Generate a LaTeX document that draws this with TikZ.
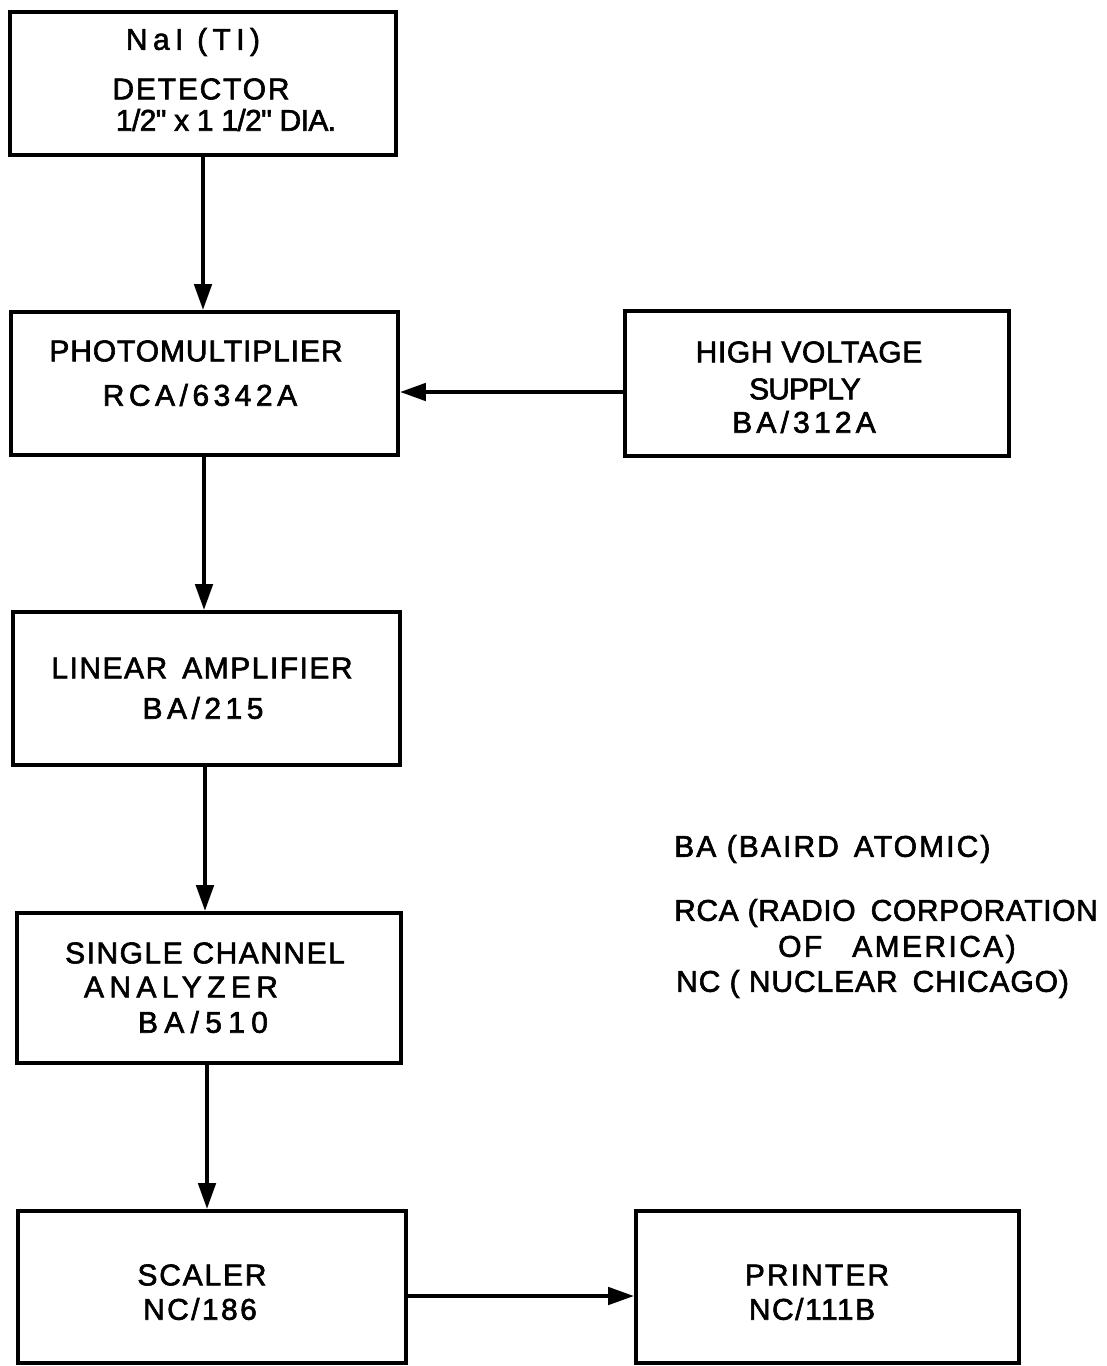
\documentclass[tikz,border=0pt]{standalone}
\usepackage{fontspec}
\setmainfont{Liberation Sans}
\newfontfamily\labfont{Liberation Sans}[FakeBold=2]
\newcommand\myls[1]{\addfontfeature{LetterSpace=#1}}
\usetikzlibrary{arrows.meta}
\begin{document}
\begin{tikzpicture}[x=1pt,y=-1pt,
  box/.style={draw,line width=3.6pt,rectangle,inner sep=0pt},
  lbl/.style={inner sep=0pt,font=\labfont\fontsize{30}{30}\selectfont},
  leg/.style={inner sep=0pt,anchor=west,font=\labfont\fontsize{30}{30}\selectfont},
  arr/.style={line width=4.5pt,-{Triangle[length=26pt,width=17pt]}}]
\useasboundingbox (0,0) rectangle (1107,1366);
% boxes
\node[box,minimum width=386pt,minimum height=143pt] (det) at (203,83.5) {};
\node[box,minimum width=387pt,minimum height=143pt] (pm) at (204.5,383.5) {};
\node[box,minimum width=384pt,minimum height=145pt] (hv) at (817,383.5) {};
\node[box,minimum width=387pt,minimum height=153pt] (amp) at (206.5,688.5) {};
\node[box,minimum width=384pt,minimum height=150pt] (sca) at (209,988) {};
\node[box,minimum width=388pt,minimum height=152pt] (scl) at (212,1287) {};
\node[box,minimum width=383pt,minimum height=152pt] (prn) at (827.5,1287) {};
% texts
\node[lbl] (t1) at (193,42) {\myls{18}NaI (TI)};
\node[lbl] (t2) at (201,89) {\myls{6}DETECTOR};
\node[lbl] (t3) at (226,120) {\myls{-2}1/2" x 1 1/2" DIA.};
\node[lbl] (t4) at (196,351) {\myls{3}PHOTOMULTIPLIER};
\node[lbl] (t5) at (200,395) {\myls{15}RCA/6342A};
\node[lbl] (t6) at (809,352) {\myls{2}HIGH VOLTAGE};
\node[lbl] (t7) at (805,389) {\myls{-3}SUPPLY};
\node[lbl] (t8) at (804,422) {\myls{14}BA/312A};
\node[lbl] (t9) at (202,668) {\myls{5}LINEAR\enspace AMPLIFIER};
\node[lbl] (t10) at (203,708) {\myls{15}BA/215};
\node[lbl] (t11) at (205,953) {\myls{5}SINGLE CHANNEL};
\node[lbl] (t12) at (181,987) {\myls{18}ANALYZER};
\node[lbl] (t13) at (203,1022) {\myls{21}BA/510};
\node[lbl] (t14) at (202,1275) {\myls{6}SCALER};
\node[lbl] (t15) at (200,1309) {\myls{8}NC/186};
\node[lbl] (t16) at (817,1275) {\myls{7}PRINTER};
\node[lbl] (t17) at (812,1309) {\myls{5}NC/111B};
% legend
\node[leg] (l1) at (674,849) {\myls{7}BA (BAIRD\enspace ATOMIC)};
\node[leg] (l2) at (674,913) {\myls{2}RCA (RADIO\enspace CORPORATION};
\node[leg] (l3) at (778,949) {\myls{8}OF\quad AMERICA)};
\node[leg] (l4) at (676,984) {\myls{3}NC ( NUCLEAR\enspace CHICAGO)};
% arrows
\draw[arr] (det.south -| 203,0) -- (pm.north -| 203,0);
\draw[arr] (pm.south -| 204,0) -- (amp.north -| 204,0);
\draw[arr] (amp.south -| 205,0) -- (sca.north -| 205,0);
\draw[arr] (sca.south -| 207,0) -- (scl.north -| 207,0);
\draw[arr] (hv.west |- 0,392) -- (pm.east |- 0,392);
\draw[arr] (scl.east |- 0,1296) -- (prn.west |- 0,1296);
\end{tikzpicture}
\end{document}
